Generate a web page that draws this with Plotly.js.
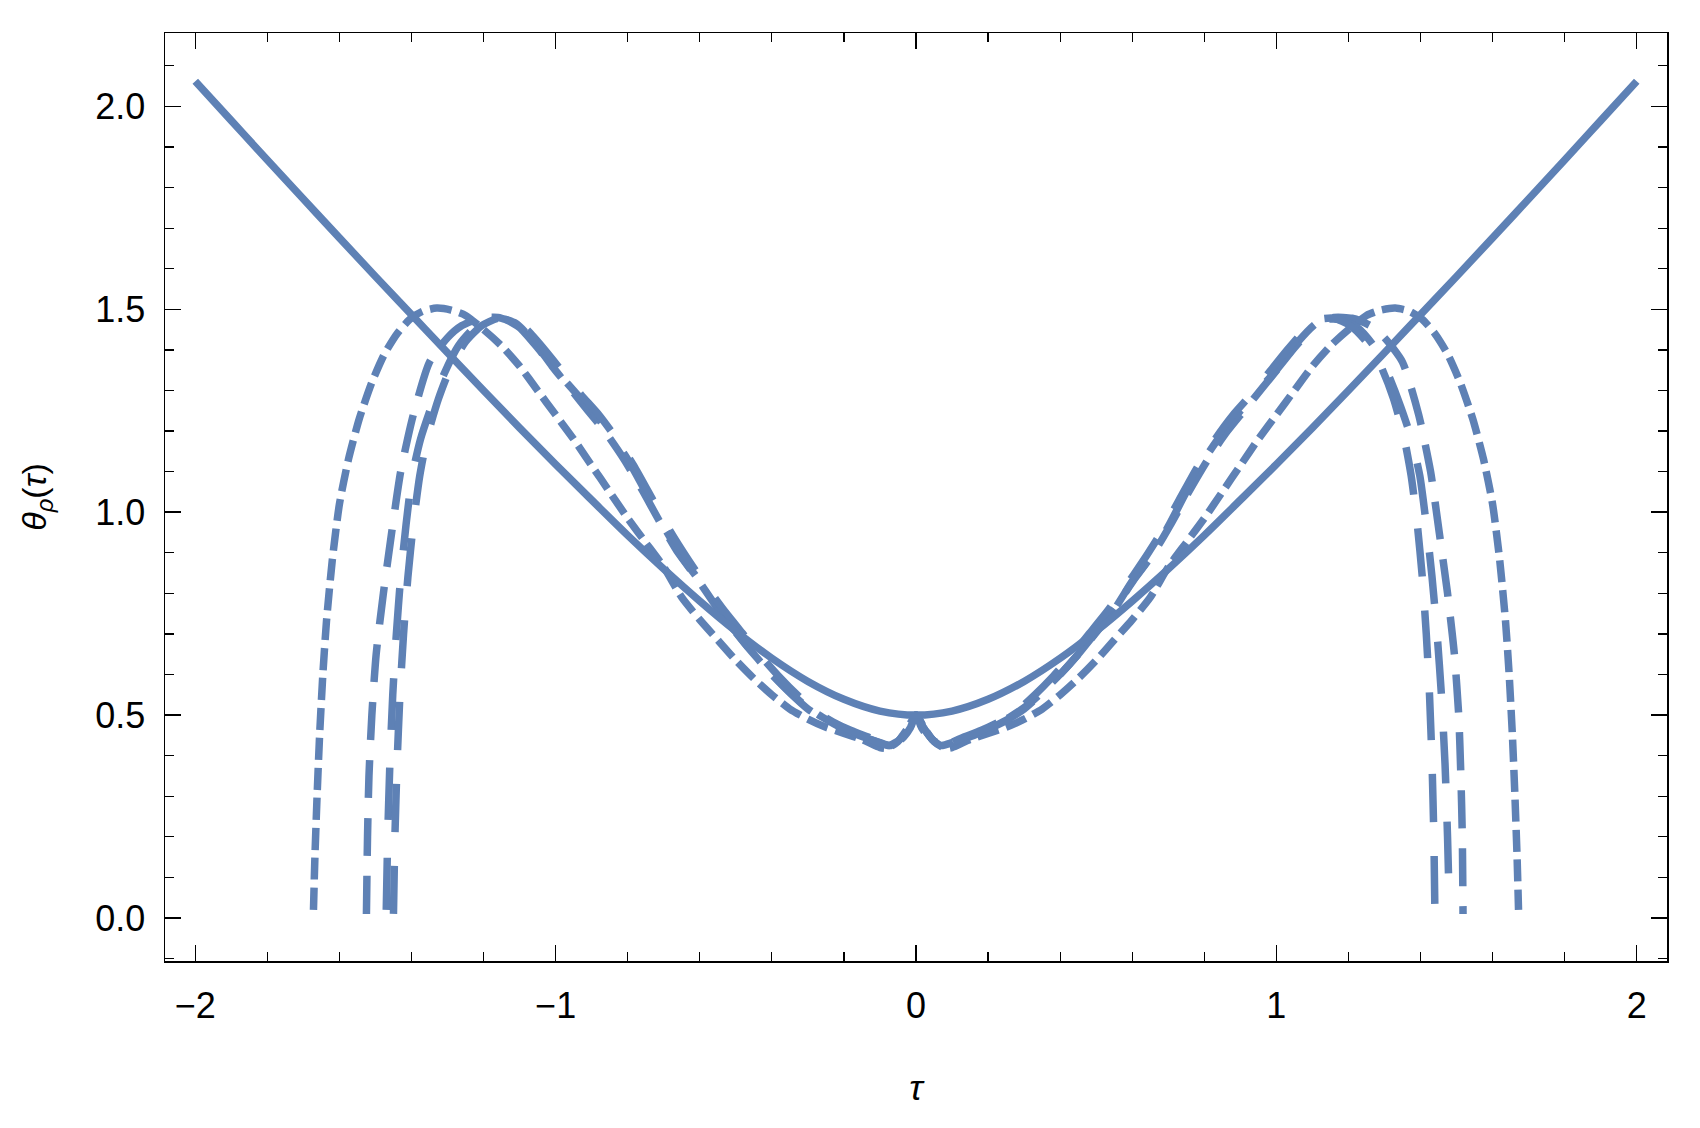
<!DOCTYPE html>
<html>
<head>
<meta charset="utf-8">
<script src="https://cdn.plot.ly/plotly-3.0.1.min.js"></script>
<style>
html,body{margin:0;padding:0;background:#fff;}
#chart{width:1700px;height:1128px;}
</style>
</head>
<body>
<div id="chart"></div>
<script>
// ---- data ----
var xTickVals = [-2, -1, 0, 1, 2];
var xTickText = ["\u22122", "\u22121", "0", "1", "2"];
var yTickVals = [0, 0.5, 1.0, 1.5, 2.0];
var yTickText = ["0.0", "0.5", "1.0", "1.5", "2.0"];

// solid curve
var tauS = [-2.0,-1.9,-1.8,-1.7,-1.6,-1.5,-1.4,-1.3,-1.2,-1.1,-1.0,-0.9,-0.8,-0.7,-0.6,-0.5,-0.4,-0.3,-0.2,-0.1,0,
            0.1,0.2,0.3,0.4,0.5,0.6,0.7,0.8,0.9,1.0,1.1,1.2,1.3,1.4,1.5,1.6,1.7,1.8,1.9,2.0];
var thetaS = [2.062,1.965,1.868,1.772,1.676,1.581,1.487,1.393,1.300,1.208,1.118,1.030,0.943,0.860,0.781,0.707,0.640,0.583,0.539,0.510,0.500,
              0.510,0.539,0.583,0.640,0.707,0.781,0.860,0.943,1.030,1.118,1.208,1.300,1.393,1.487,1.581,1.676,1.772,1.868,1.965,2.062];

// short-dash curve (widest)
var tauA = [-1.672,-1.668,-1.662,-1.655,-1.646,-1.636,-1.620,-1.600,-1.575,-1.545,-1.510,-1.475,-1.440,-1.405,-1.370,-1.330,-1.290,-1.250,-1.200,-1.150,-1.100,-1.050,-1.000,-0.950,-0.900,-0.850,-0.800,-0.750,-0.700,-0.650,-0.600,-0.550,-0.500,-0.450,-0.400,-0.350,-0.300,-0.250,-0.200,-0.150,-0.100,-0.080,-0.050,-0.025,0,
            0.025,0.050,0.080,0.100,0.150,0.200,0.250,0.300,0.350,0.400,0.450,0.500,0.550,0.600,0.650,0.700,0.750,0.800,0.850,0.900,0.950,1.000,1.050,1.100,1.150,1.200,1.250,1.290,1.330,1.370,1.405,1.440,1.475,1.510,1.545,1.575,1.600,1.620,1.636,1.646,1.655,1.662,1.668,1.672];
var thetaA = [0.02,0.15,0.30,0.45,0.60,0.73,0.88,1.02,1.13,1.23,1.32,1.39,1.44,1.475,1.495,1.503,1.498,1.485,1.45,1.41,1.36,1.30,1.24,1.18,1.115,1.05,0.985,0.925,0.865,0.79,0.735,0.685,0.635,0.59,0.55,0.515,0.49,0.47,0.455,0.44,0.42,0.418,0.435,0.465,0.50,
              0.465,0.435,0.418,0.42,0.44,0.455,0.47,0.49,0.515,0.55,0.59,0.635,0.685,0.735,0.79,0.865,0.925,0.985,1.05,1.115,1.18,1.24,1.30,1.36,1.41,1.45,1.485,1.498,1.503,1.495,1.475,1.44,1.39,1.32,1.23,1.13,1.02,0.88,0.73,0.60,0.45,0.30,0.15,0.02];

// medium-dash curve
var tauB = [-1.525,-1.522,-1.518,-1.510,-1.498,-1.478,-1.455,-1.430,-1.395,-1.350,-1.300,-1.260,-1.210,-1.160,-1.110,-1.060,-1.010,-0.960,-0.910,-0.860,-0.810,-0.760,-0.710,-0.660,-0.610,-0.560,-0.510,-0.460,-0.410,-0.360,-0.310,-0.260,-0.210,-0.160,-0.110,-0.075,-0.045,-0.020,0,
            0.020,0.045,0.075,0.110,0.160,0.210,0.260,0.310,0.360,0.410,0.460,0.510,0.560,0.610,0.660,0.710,0.760,0.810,0.860,0.910,0.960,1.010,1.060,1.110,1.160,1.210,1.260,1.300,1.350,1.395,1.428,1.452,1.475,1.494,1.506,1.512,1.516,1.518];
var thetaB = [0.01,0.20,0.35,0.50,0.65,0.80,0.95,1.10,1.24,1.37,1.43,1.46,1.478,1.48,1.465,1.42,1.36,1.305,1.25,1.195,1.13,1.055,0.975,0.90,0.84,0.775,0.715,0.66,0.61,0.565,0.525,0.495,0.47,0.45,0.435,0.425,0.44,0.47,0.50,
              0.47,0.44,0.425,0.435,0.45,0.47,0.495,0.525,0.565,0.61,0.66,0.715,0.775,0.84,0.90,0.975,1.055,1.13,1.195,1.25,1.305,1.36,1.42,1.465,1.48,1.478,1.46,1.43,1.37,1.24,1.10,0.95,0.80,0.65,0.50,0.35,0.20,0.01];

// long-dash curve 1
var tauC = [-1.470,-1.466,-1.460,-1.452,-1.442,-1.430,-1.415,-1.398,-1.375,-1.345,-1.310,-1.270,-1.225,-1.175,-1.140,-1.100,-1.050,-1.000,-0.950,-0.900,-0.850,-0.800,-0.750,-0.700,-0.650,-0.600,-0.550,-0.500,-0.450,-0.400,-0.350,-0.300,-0.250,-0.200,-0.150,-0.100,-0.070,-0.045,-0.020,0,
            0.020,0.045,0.070,0.100,0.150,0.200,0.250,0.300,0.350,0.400,0.450,0.500,0.550,0.600,0.650,0.700,0.750,0.800,0.850,0.900,0.950,1.000,1.050,1.100,1.140,1.175,1.225,1.270,1.310,1.345,1.375,1.398,1.416,1.432,1.446,1.458,1.468,1.475,1.480];
var thetaC = [0.02,0.20,0.38,0.55,0.70,0.84,0.97,1.09,1.18,1.26,1.34,1.41,1.455,1.475,1.475,1.455,1.405,1.35,1.30,1.25,1.195,1.13,1.05,0.965,0.89,0.83,0.76,0.705,0.65,0.60,0.555,0.515,0.487,0.465,0.447,0.432,0.425,0.44,0.47,0.50,
              0.47,0.44,0.425,0.432,0.447,0.465,0.487,0.515,0.555,0.60,0.65,0.705,0.76,0.83,0.89,0.965,1.05,1.13,1.195,1.25,1.30,1.35,1.405,1.455,1.475,1.475,1.455,1.41,1.34,1.26,1.18,1.09,0.97,0.84,0.70,0.55,0.38,0.20,0.02];

// long-dash curve 2
var tauD = [-1.450,-1.446,-1.440,-1.432,-1.422,-1.410,-1.395,-1.377,-1.355,-1.325,-1.290,-1.250,-1.205,-1.160,-1.120,-1.080,-1.030,-0.980,-0.930,-0.880,-0.830,-0.780,-0.730,-0.680,-0.630,-0.580,-0.530,-0.480,-0.430,-0.380,-0.330,-0.280,-0.230,-0.180,-0.130,-0.090,-0.060,-0.035,-0.015,0,
            0.015,0.035,0.060,0.090,0.130,0.180,0.230,0.280,0.330,0.380,0.430,0.480,0.530,0.580,0.630,0.680,0.730,0.780,0.830,0.880,0.930,0.980,1.030,1.080,1.120,1.160,1.205,1.250,1.290,1.325,1.353,1.374,1.391,1.405,1.416,1.425,1.432,1.437,1.440];
var thetaD = [0.01,0.20,0.38,0.55,0.70,0.84,0.97,1.09,1.19,1.28,1.36,1.42,1.46,1.478,1.475,1.45,1.40,1.345,1.29,1.24,1.18,1.11,1.03,0.95,0.88,0.815,0.755,0.70,0.645,0.595,0.55,0.51,0.483,0.462,0.445,0.43,0.428,0.445,0.47,0.50,
              0.47,0.445,0.428,0.43,0.445,0.462,0.483,0.51,0.55,0.595,0.645,0.70,0.755,0.815,0.88,0.95,1.03,1.11,1.18,1.24,1.29,1.345,1.40,1.45,1.475,1.478,1.46,1.42,1.36,1.28,1.19,1.09,0.97,0.84,0.70,0.55,0.38,0.20,0.01];

// ---- drawing ----
var lineColor = "#5E81B5";
var W = 7.5;
function tr(x, y, dash, smooth){
  return {x: x, y: y, type: "scatter", mode: "lines", hoverinfo: "skip",
          line: {color: lineColor, width: W, dash: dash, shape: "spline", smoothing: smooth}};
}
var traces = [
  tr(tauA, thetaA, "22px,8px", 0.6),
  tr(tauB, thetaB, "38px,20px", 0.6),
  tr(tauC, thetaC, "52px,38px", 0.6),
  tr(tauD, thetaD, "48px,34px", 0.6),
  tr(tauS, thetaS, "solid", 1.0)
];

var tickFont = {family: "Liberation Sans, Arial, sans-serif", size: 36, color: "#000"};
var axisCommon = {
  showgrid: false, zeroline: false, showline: true, linecolor: "#000", linewidth: 1.5,
  mirror: "allticks", ticks: "inside", ticklen: 16, tickwidth: 1.5, tickcolor: "#000",
  tickfont: tickFont
};

var layout = {
  width: 1700, height: 1128,
  paper_bgcolor: "#fff", plot_bgcolor: "#fff",
  showlegend: false,
  margin: {l: 165, r: 33, t: 33, b: 167},
  xaxis: Object.assign({}, axisCommon, {
    range: [-2.084, 2.084],
    tickmode: "array", tickvals: xTickVals, ticktext: xTickText,
    minor: {dtick: 0.2, tick0: 0, ticks: "inside", ticklen: 9, tickwidth: 1.2, tickcolor: "#000"},
    ticklabelstandoff: 12,
    title: {text: "<i>τ</i>", font: {family: "Liberation Sans, Arial, sans-serif", size: 36, color: "#000"}, standoff: 50}
  }),
  yaxis: Object.assign({}, axisCommon, {
    range: [-0.106, 2.181],
    tickmode: "array", tickvals: yTickVals, ticktext: yTickText,
    minor: {dtick: 0.1, tick0: 0, ticks: "inside", ticklen: 9, tickwidth: 1.2, tickcolor: "#000"},
    ticklabelstandoff: 11,
    title: {text: "<i>θ</i><sub><i>ρ</i></sub>(<i>τ</i>)", font: {family: "Liberation Sans, Arial, sans-serif", size: 34, color: "#000"}, standoff: 38}
  })
};

Plotly.newPlot("chart", traces, layout, {staticPlot: true, displayModeBar: false});
</script>
</body>
</html>
